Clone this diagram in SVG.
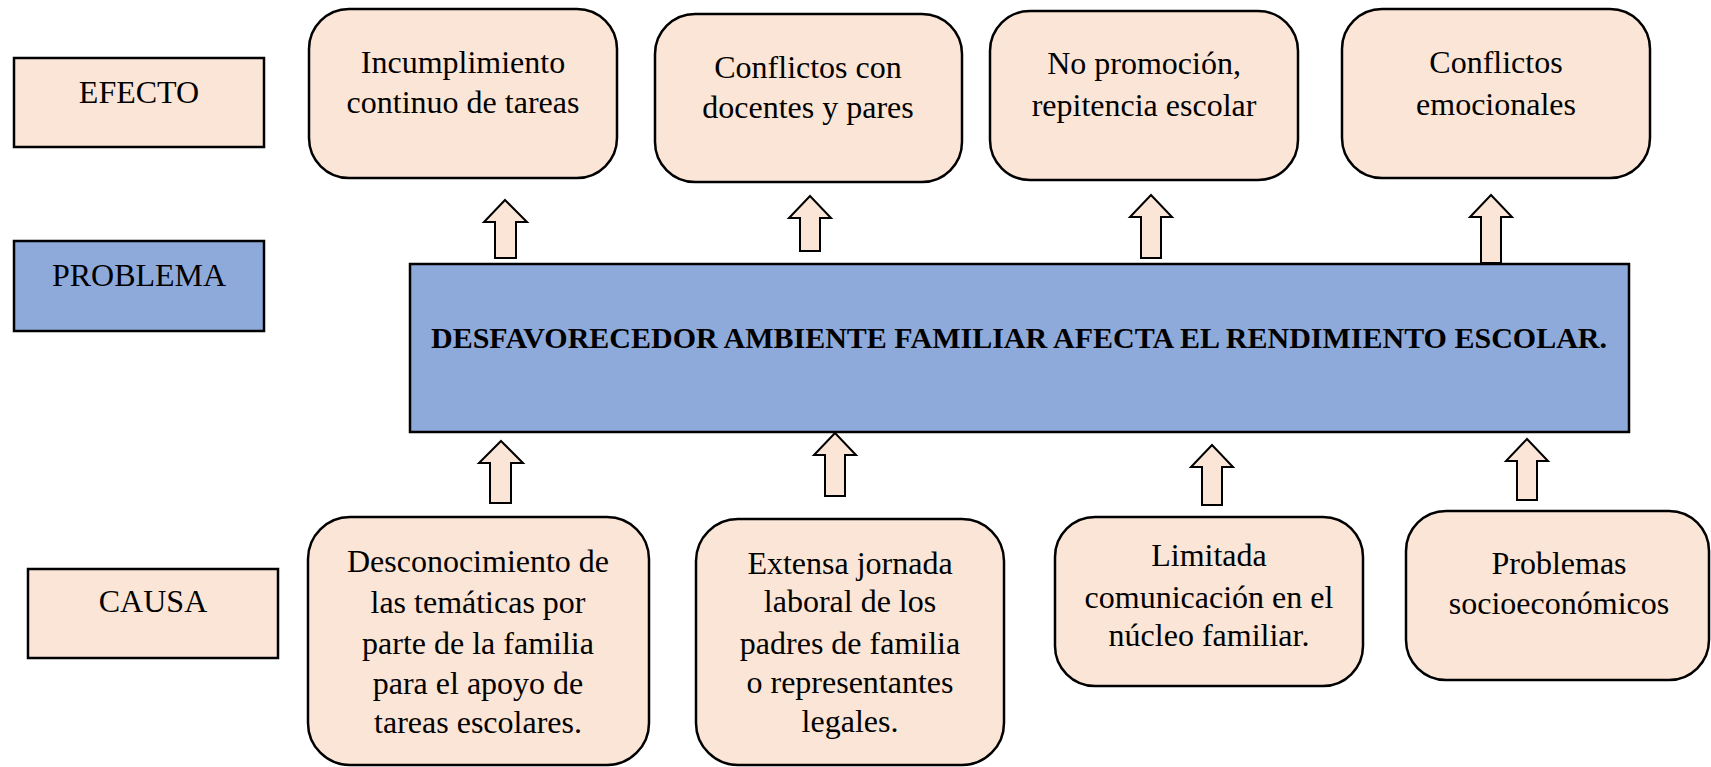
<svg xmlns="http://www.w3.org/2000/svg" width="1711" height="767" viewBox="0 0 1711 767">
<style>
.box{fill:#FBE5D6;stroke:#000;stroke-width:2.5}
.blue{fill:#8EAADB;stroke:#000;stroke-width:2.5}
.arr{fill:#FBE5D6;stroke:#000;stroke-width:2;stroke-linejoin:miter}
text{font-family:"Liberation Serif","Times New Roman",serif;font-size:32px;fill:#000;text-anchor:middle}
.b{font-weight:bold;font-size:30px}
</style>
<rect width="1711" height="767" fill="#fff"/>
<g id="label-efecto"><rect class="box" x="14" y="58" width="250" height="89"/><text x="139" y="103">EFECTO</text></g>
<g id="label-problema"><rect class="blue" x="14" y="241" width="250" height="90"/><text x="139" y="286">PROBLEMA</text></g>
<g id="label-causa"><rect class="box" x="28" y="569" width="250" height="89"/><text x="153" y="612">CAUSA</text></g>

<g id="problema"><rect class="blue" x="410" y="264" width="1219" height="168"/><text class="b" x="1019" y="348">DESFAVORECEDOR AMBIENTE FAMILIAR AFECTA EL RENDIMIENTO ESCOLAR.</text></g>

<g id="efecto1"><rect class="box" x="309" y="9" width="308" height="169" rx="40"/><text x="463" y="73">Incumplimiento</text><text x="463" y="113">continuo de tareas</text></g>
<g id="efecto2"><rect class="box" x="655" y="14" width="307" height="168" rx="40"/><text x="808" y="78">Conflictos con</text><text x="808" y="118">docentes y pares</text></g>
<g id="efecto3"><rect class="box" x="990" y="11" width="308" height="169" rx="40"/><text x="1144" y="74">No promoción,</text><text x="1144" y="116">repitencia escolar</text></g>
<g id="efecto4"><rect class="box" x="1342" y="9" width="308" height="169" rx="40"/><text x="1496" y="73">Conflictos</text><text x="1496" y="115">emocionales</text></g>

<g id="causa1"><rect class="box" x="308" y="517" width="341" height="248" rx="42"/><text x="478" y="572">Desconocimiento de</text><text x="478" y="613">las temáticas por</text><text x="478" y="654">parte de la familia</text><text x="478" y="694">para el apoyo de</text><text x="478" y="733">tareas escolares.</text></g>
<g id="causa2"><rect class="box" x="696" y="519" width="308" height="246" rx="42"/><text x="850" y="574">Extensa jornada</text><text x="850" y="612">laboral de los</text><text x="850" y="654">padres de familia</text><text x="850" y="693">o representantes</text><text x="850" y="732">legales.</text></g>
<g id="causa3"><rect class="box" x="1055" y="517" width="308" height="169" rx="40"/><text x="1209" y="566">Limitada</text><text x="1209" y="608">comunicación en el</text><text x="1209" y="646">núcleo familiar.</text></g>
<g id="causa4"><rect class="box" x="1406" y="511" width="303" height="169" rx="40"/><text x="1559" y="574">Problemas</text><text x="1559" y="614">socioeconómicos</text></g>

<g id="connectors">
<path class="arr" d="M505,200 L527,222 L516,222 L516,258 L495,258 L495,222 L484,222 Z"/>
<path class="arr" d="M810,196 L831,218 L820,218 L820,251 L800,251 L800,218 L789,218 Z"/>
<path class="arr" d="M1151,195 L1172,217 L1161,217 L1161,258 L1141,258 L1141,217 L1130,217 Z"/>
<path class="arr" d="M1491,195 L1512,217 L1501,217 L1501,263 L1481,263 L1481,217 L1470,217 Z"/>
<path class="arr" d="M501,441 L523,463 L511,463 L511,503 L490,503 L490,463 L479,463 Z"/>
<path class="arr" d="M835,433 L856,455 L845,455 L845,496 L825,496 L825,455 L814,455 Z"/>
<path class="arr" d="M1212,445 L1233,467 L1222,467 L1222,505 L1202,505 L1202,467 L1191,467 Z"/>
<path class="arr" d="M1527,439 L1548,461 L1537,461 L1537,500 L1517,500 L1517,461 L1506,461 Z"/>
</g>
</svg>
